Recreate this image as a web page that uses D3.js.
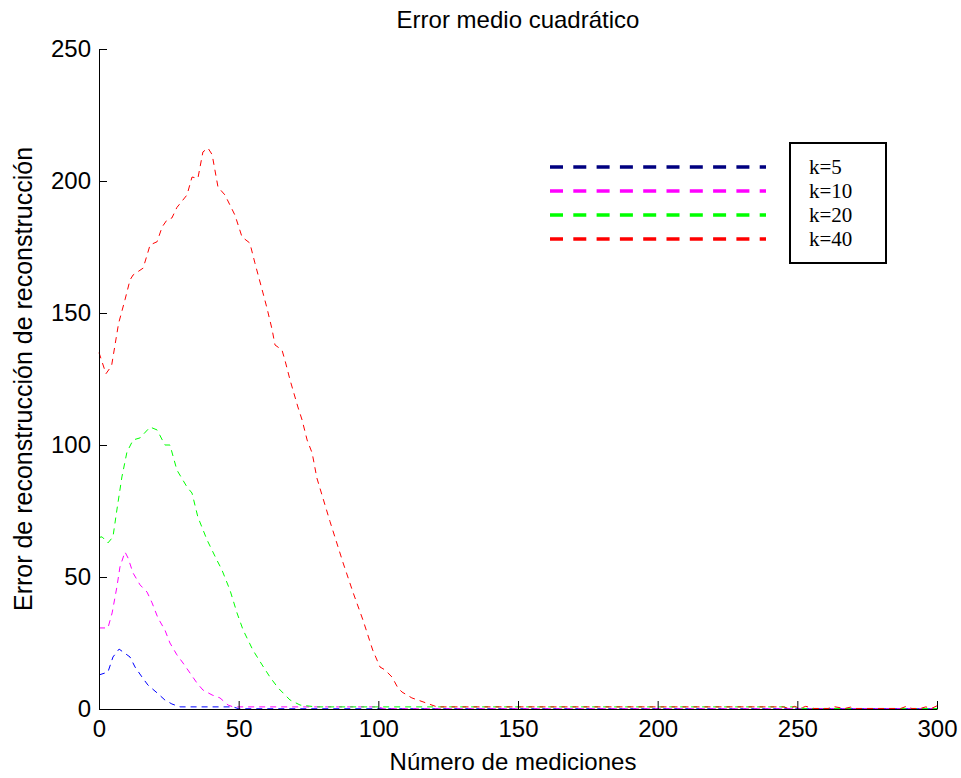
<!DOCTYPE html>
<head>
  <meta charset="utf-8">
  <title>Error medio cuadratico</title>
  <script type="text/javascript" src="https://d3js.org/d3.v7.min.js"></script>
  <style type="text/css">
  body {
      margin: 0;
      background: #fff;
    }
  text {
      font-family: "Liberation Sans", Arial, sans-serif;
    }
  .legend text {
      font-family: "Liberation Serif", "Times New Roman", serif;
    }
  </style>
</head>
<body>
  <script type="text/javascript">

    // Values
    var k5X  = [0, 3.2, 5, 7.2, 8.6, 11.1, 12.9, 15.4, 17.5, 20.8, 23.6, 26.1, 29, 48, 50, 300];
    var k5Y  = [12.9, 14, 19.7, 22.7, 21.6, 19.7, 15.9, 12.1, 9.1, 6.1, 3.4, 1.9, 0.8, 0.8, 0.1, 0.1];

    var k10X = [0, 3.2, 4.7, 6.4, 7.5, 9.3, 10.4, 12.2, 14.7, 17.2, 19, 21.1, 23.6, 25.4, 27.9, 30.1,
                32.6, 35.1, 37.2, 40.5, 43.3, 46.2, 48, 100, 102, 300];
    var k10Y = [30.7, 30.7, 36.4, 46.2, 53.8, 59.5, 57.2, 51.5, 47, 44.3, 40.2, 34.5, 29.9, 25, 20.5, 17.4,
                13.6, 9.8, 7.2, 5.3, 4.2, 1.5, 0.8, 0.8, 0.1, 0.1];

    var k20X = [0, 1.1, 3.2, 5, 6.4, 8.2, 10, 12.2, 14.7, 18.3, 20.8, 23.6, 25.4, 27.9, 31.5, 33.3,
                35.4, 38.7, 42.2, 44, 46.9, 49.4, 51.6, 55.1, 58.4, 61.2, 64.1, 68.4, 72, 77.7, 150,
                250, 252, 300];
    var k20Y = [65, 65.2, 62.9, 65.2, 75.4, 87.9, 97.3, 101.9, 102.7, 106.8, 105.7, 100, 100, 90.5, 84.1, 81.8,
                72.7, 64, 56.4, 52.7, 45, 36.4, 29.9, 22.3, 16.7, 12.1, 8, 3.4, 1.5, 0.8, 0.8,
                0.8, 0.2, 0.2];

    var k40X = [0, 2.5, 4.5, 7, 9.3, 11.1, 12.2, 15.8, 18.3, 20.8, 22.6, 24.3, 26.1, 27.9, 31.5, 33.3,
                35.4, 37.2, 39, 40.5, 42.6, 45.1, 48.7, 51.2, 54, 55.8, 58.7, 60.1, 62, 63, 65.5,
                66.6, 68.4, 71.2, 72.7, 74.5, 76.3, 78, 82.7, 87.4, 91, 94.5, 98, 100.6, 102.4,
                104.9, 107, 108.5, 112, 116, 121, 160, 200, 245, 247, 249, 251, 253, 256, 261, 263,
                267, 269, 271, 274, 287, 289, 291, 294, 296, 298, 300];
    var k40Y = [135, 127, 130, 146, 155, 162.5, 164.4, 167, 175.8, 177, 182.6, 185.2, 186, 190, 194.7, 201.5,
                201, 211, 212.5, 210, 197.7, 194.7, 187, 178.8, 176.5, 169, 157.6, 152, 143.6, 137.9, 136,
                132, 124.6, 114.4, 109.5, 101.9, 97, 87.5, 71, 55.3, 44, 33.7, 22.3, 15.9, 14.8,
                12.1, 8, 6.4, 4.2, 2.7, 0.8, 0.8, 0.8, 0.8, 0.2, 1, 0.2, 1, 0.2, 0.2, 0.9,
                0.2, 0.7, 0.2, 0.2, 0.2, 1, 0.2, 0.2, 0.8, 0.2, 1.2];

    var labels = ["k=5", "k=10", "k=20", "k=40"];
    var lineColors = ["#0000ff", "#ff00ff", "#00ff00", "#ff0000"];
    var legendColors = ["#000080", "#ff00ff", "#00ff00", "#ff0000"];
    var xTicks = [0, 50, 100, 150, 200, 250, 300];
    var yTicks = [0, 50, 100, 150, 200, 250];

    var series = [
      {xs: k5X, ys: k5Y},
      {xs: k10X, ys: k10Y},
      {xs: k20X, ys: k20Y},
      {xs: k40X, ys: k40Y}
    ].map(function(s, i) {
      return {label: labels[i], color: lineColors[i],
              points: s.xs.map(function(v, j) { return [v, s.ys[j]]; })};
    });

    // Plot box
    var width = 961, height = 778;
    var plot = {left: 99, right: 937, top: 49, bottom: 709};

    var svg = d3.select("body").append("svg")
      .attr("width", width)
      .attr("height", height);

    var x = d3.scaleLinear().domain([0, 300]).range([plot.left, plot.right]);
    var y = d3.scaleLinear().domain([0, 250]).range([plot.bottom, plot.top]);

    // Data lines
    var line = d3.line()
      .x(function(d) { return x(d[0]); })
      .y(function(d) { return y(d[1]); });

    svg.selectAll(".serie")
      .data(series)
      .enter().append("path")
      .attr("class", "serie")
      .attr("fill", "none")
      .attr("stroke", function(d) { return d.color; })
      .attr("stroke-width", 1)
      .attr("stroke-dasharray", "6,5")
      .attr("d", function(d) { return line(d.points); });

    // Axes, ticks pointing inwards
    var xAxis = svg.append("g")
      .attr("transform", "translate(0," + plot.bottom + ")")
      .call(d3.axisBottom(x).tickValues(xTicks).tickSize(-8).tickSizeOuter(0).tickPadding(11));

    var yAxis = svg.append("g")
      .attr("transform", "translate(" + plot.left + ",0)")
      .call(d3.axisLeft(y).tickValues(yTicks).tickSize(-8).tickSizeOuter(0).tickPadding(8));

    [xAxis, yAxis].forEach(function(g) {
      g.attr("font-size", 24)
       .attr("font-family", "'Liberation Sans', Arial, sans-serif");
      g.selectAll("text").attr("fill", "#000");
      g.selectAll("line, path").attr("stroke", "#000");
    });

    // Title and axis labels
    svg.append("text")
      .attr("x", 518)
      .attr("y", 28)
      .attr("text-anchor", "middle")
      .attr("font-size", 24)
      .text("Error medio cuadrático");

    svg.append("text")
      .attr("x", 513)
      .attr("y", 770)
      .attr("text-anchor", "middle")
      .attr("font-size", 24)
      .text("Número de mediciones");

    svg.append("text")
      .attr("transform", "translate(32," + (plot.top + plot.bottom) / 2 + ") rotate(-90)")
      .attr("text-anchor", "middle")
      .attr("font-size", 25)
      .text("Error de reconstrucción de reconstrucción");

    // Legend
    var legend = svg.append("g").attr("class", "legend");

    legend.selectAll(".lgline")
      .data(labels)
      .enter().append("line")
      .attr("class", "lgline")
      .attr("x1", 550)
      .attr("x2", 766)
      .attr("y1", function(d, i) { return 167 + i * 24; })
      .attr("y2", function(d, i) { return 167 + i * 24; })
      .attr("stroke", function(d, i) { return legendColors[i]; })
      .attr("stroke-width", 3.5)
      .attr("stroke-dasharray", "13,10.3");

    legend.append("rect")
      .attr("x", 790)
      .attr("y", 143)
      .attr("width", 96)
      .attr("height", 120)
      .attr("fill", "none")
      .attr("stroke", "#000")
      .attr("stroke-width", 2);

    legend.selectAll(".lgtext")
      .data(labels)
      .enter().append("text")
      .attr("class", "lgtext")
      .attr("x", 809)
      .attr("y", function(d, i) { return 174 + i * 24; })
      .attr("font-size", 21)
      .text(function(d) { return d; });

  </script>

</body>
</html>
